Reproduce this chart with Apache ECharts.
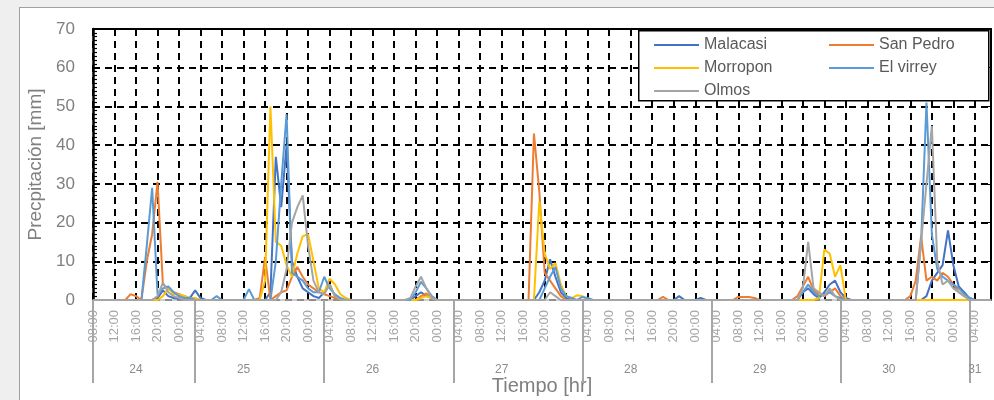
<!DOCTYPE html>
<html>
<head>
<meta charset="utf-8">
<script src="https://cdn.jsdelivr.net/npm/echarts@6/dist/echarts.min.js"></script>
<style>
body{margin:0;background:#efefef;overflow:hidden;}
#frame{position:absolute;left:19px;top:7px;width:980px;height:400px;background:#fff;border-left:1px solid #a0a0a0;border-top:1px solid #a0a0a0;}
#main{position:absolute;left:0;top:0;width:994px;height:400px;}
</style>
</head>
<body>
<div id="frame"></div>
<div id="main"></div>
<script>
// hourly categories, 24 08:00 -> 31 07:00
var categories = [];
for (var i = 0; i < 168; i++) {
    var h = 8 + i;
    var d = 24 + Math.floor(h / 24);
    var hh = h % 24;
    categories.push(d + ' ' + (hh < 10 ? '0' : '') + hh + ':00');
}
var dayBreakIdx = [0, 19, 43, 67, 91, 115, 139, 163];
var dayLabelIdx = [8, 28, 52, 76, 100, 124, 148, 164];
var yTicks = [0, 10, 20, 30, 40, 50, 60, 70];

var malacasi = [
    0,0,0,0,0,0,0,0,0,0,0,0, 0.5,2.5,1,0.5,0.3,0.3,0.5,2.5,0.5,0,0,0,
    0,0,0,0,0,0,0,0,0,2,37,24, 40,10,6,3,2,1,0.5,2,4,1,0,0,
    0,0,0,0,0,0,0,0,0,0,0,0, 1,2,1,0.5,0,0,0,0,0,0,0,0,
    0,0,0,0,0,0,0,0,0,0,0,2, 5,10.5,6,2,0.5,0,0,0,0,0,0,0,
    0,0,0,0,0,0,0,0,0,0,0,0, 0,1,0,0,0,0.5,0,0,0,0,0,0,
    0,0,0,0,0,0,0,0,0,0,0,0, 2,3,1.5,0.5,2,4,5,2,0.5,0,0,0,
    0,0,0,0,0,0,0,0,0,0,0,1, 5,7,9,18,9,3.5,2,0.5,0,0,0,0
];
var sanPedro = [
    0,0,0,0,0,0,0,1.5,1,0,10,17, 30.5,4,3,2,1.5,1,0.5,0,0,0,0,0,
    0,0,0,0,0,0,0,0.5,11,0,1,2, 2.5,6,8.5,6,4,3,2,1.5,1,0.5,0,0,
    0,0,0,0,0,0,0,0,0,0,0,0, 0,1,1.7,0.5,0,0,0,0,0,0,0,0,
    0,0,0,0,0,0,0,0,0,0,43,28, 7,5,3,1,0,0,0,0,0,0,0,0,
    0,0,0,0,0,0,0,0,0,0,0.8,0, 0,0,0,0,0,0,0,0,0,0,0,0,
    0.8,0.8,0.8,0.5,0,0,0,0,0,0,0,1, 3.5,6,2.5,1.5,1,2,3,1,0,0,0,0,
    0,0,0,0,0,0,0,0,1,5,16.5,5, 6,5,7,6,4,2,1,0.3,0,0,0,0
];
var morropon = [
    0,0,0,0,0,0,0,0,0,0,0,0, 0,1,3,1.5,1.5,1,0.5,0.5,0,0,0,0,
    0,0,0,0,0,0,0,0,5,50,15,14, 9,6,12,16.5,17,10,3,2,5.5,4,1.5,0.5,
    0,0,0,0,0,0,0,0,0,0,0,0, 0,0.5,1,0.5,0,0,0,0,0,0,0,0,
    0,0,0,0,0,0,0,0,0,0,0,25.5, 12,8,9.5,4,1,0.5,1.2,1,0,0,0,0,
    0,0,0,0,0,0,0,0,0,0,0,0, 0,0,0,0,0,0,0,0,0,0,0,0,
    0,0,0,0,0,0,0,0,0,0,0,0, 0,0,0,0.5,13,12,6,9,0,0,0,0,
    0,0,0,0,0,0,0,0,0,0,0,0, 0,0,0,0,0,0,0,0,0,0,0,0
];
var elVirrey = [
    0,0,0,0,0,0,0,0,0,0,14,29, 1.5,3,3.5,2,1,0.5,0.5,0,0,0,0,1,
    0,0,0,0,0,2.8,0,0,0,0,10,30, 48,7,6,5,3,2,2,6,3,1.5,0.5,0,
    0,0,0,0,0,0,0,0,0,0,0,0, 2,4.7,3,1,0,0,0,0,0,0,0,0,
    0,0,0,0,0,0,0,0,0,0,0,0, 3,6,8.5,3,1,0.5,0,0.8,0.5,0,0,0,
    0,0,0,0,0,0,0,0,0,0,0,0, 0,0,0,0,0,0,0,0,0,0,0,0,
    0,0,0,0,0,0,0,0,0,0,0,0, 2,4,2,1,1.5,2,1,0.5,0,0,0,0,
    0,0,0,0,0,0,0,0,0,0,15,51, 17,8,6,5,4,3,1.5,0.5,0,0,0,0
];
var olmos = [
    0,0,0,0,0,0,0,0,0,0,0,0, 1,4.5,2,1,0.5,0,0,0,0,0,0,0,
    0,0,0,0,0,0,0,0,0,0,0,2, 8,20,24,27,14,5,2,1.5,4,1,0,0,
    0,0,0,0,0,0,0,0,0,0,0,0.5, 3.5,6,3,0.5,0,0,0,0,0,0,0,0,
    0,0,0,0,0,0,0,0,0,0,0,0, 0,2,1,0,0,0,0,0,0,0,0,0,
    0,0,0,0,0,0,0,0,0,0,0,0, 0,0,0,0,0,0,0,0,0,0,0,0,
    0,0,0,0,0,0,0,0,0,0,0,0, 3,15,3,2,1,3,1,0,0,0,0,0,
    0,0,0,0,0,0,0,0,0,0,15,30, 45,10,4,5,3,2,1,0,0,0,0,0
];

var colors = ['#4472C4', '#ED7D31', '#FFC000', '#5B9BD5', '#A5A5A5'];
var font = 'Liberation Sans';

var dom = document.getElementById('main');
var myChart = echarts.init(dom, null, {renderer: 'canvas'});
var gridDash = [7, 5];

function lineSeries(name, data, c) {
    return {
        name: name,
        type: 'line',
        data: data,
        symbol: 'none',
        lineStyle: {width: 2, color: c},
        itemStyle: {color: c},
        z: 3
    };
}

var legendText = {fontFamily: font, fontSize: 16, color: '#595959', lineHeight: 20};

option = {
    color: colors,
    animation: false,
    grid: {left: 93, top: 29, right: 3, bottom: 100, outerBoundsMode: 'none'},
    graphic: [{
        type: 'rect',
        left: 638, top: 30,
        shape: {width: 350, height: 70},
        style: {fill: '#fff', stroke: '#000', lineWidth: 1.5},
        z: 10
    }],
    legend: [{
        orient: 'vertical',
        left: 654, top: 35,
        padding: 0,
        itemGap: 3,
        icon: 'rect',
        itemWidth: 45, itemHeight: 2,
        textStyle: legendText,
        data: ['Malacasi', 'Morropon', 'Olmos'],
        z: 11
    }, {
        orient: 'vertical',
        left: 829, top: 35,
        padding: 0,
        itemGap: 3,
        icon: 'rect',
        itemWidth: 45, itemHeight: 2,
        textStyle: legendText,
        data: ['San Pedro', 'El virrey'],
        z: 11
    }],
    xAxis: [{
        type: 'category',
        data: categories,
        boundaryGap: false,
        name: 'Tiempo [hr]',
        nameLocation: 'middle',
        nameGap: 76,
        nameTextStyle: {fontFamily: font, fontSize: 20, color: '#7f7f7f'},
        axisLine: {lineStyle: {color: '#bfbfbf', width: 1.5}},
        axisTick: {show: false},
        axisLabel: {
            interval: 3, rotate: 90, margin: 10,
            fontFamily: font, fontSize: 13, color: '#a6a6a6',
            formatter: function (v) { return v.slice(3); }
        },
        splitLine: {show: true, interval: 3, lineStyle: {color: '#000', width: 2, type: gridDash}}
    }, {
        type: 'category',
        data: categories,
        boundaryGap: false,
        position: 'bottom',
        axisLine: {show: false},
        axisTick: {
            show: true, length: 83,
            interval: function (idx) { return dayBreakIdx.indexOf(idx) >= 0; },
            lineStyle: {color: '#a6a6a6', width: 2}
        },
        axisLabel: {
            margin: 64,
            interval: function (idx) { return dayLabelIdx.indexOf(idx) >= 0; },
            fontFamily: font, fontSize: 12, color: '#8c8c8c',
            formatter: function (v) { return v.slice(0, 2); }
        },
        splitLine: {show: false}
    }, {
        type: 'category',
        data: categories,
        boundaryGap: false,
        position: 'top',
        axisLine: {lineStyle: {color: '#000', width: 2}},
        axisTick: {show: false},
        axisLabel: {show: false},
        splitLine: {show: false}
    }],
    yAxis: [{
        type: 'value',
        min: 0, max: 70, interval: 10,
        name: 'Precpitación [mm]',
        nameLocation: 'middle',
        nameGap: 45,
        nameTextStyle: {fontFamily: font, fontSize: 19, color: '#7f7f7f'},
        axisLine: {show: true, lineStyle: {color: '#000', width: 2.5}},
        axisTick: {show: true, inside: true, length: 5, lineStyle: {color: '#000', width: 1.5}},
        minorTick: {show: true, splitNumber: 10, length: 4, lineStyle: {color: '#000', width: 1.2}},
        axisLabel: {
            margin: 18, fontFamily: font, fontSize: 17, color: '#7f7f7f',
            formatter: function (v) { return yTicks.indexOf(v) >= 0 ? String(v) : ''; }
        },
        splitLine: {show: true, lineStyle: {color: '#000', width: 2, type: gridDash}}
    }, {
        type: 'value',
        min: 0, max: 70, interval: 10,
        position: 'right',
        axisLine: {show: true, lineStyle: {color: '#000', width: 2}},
        axisTick: {show: true, inside: true, length: 4, lineStyle: {color: '#000'}},
        axisLabel: {show: false},
        splitLine: {show: false}
    }],
    series: [
        lineSeries('Malacasi', malacasi, colors[0]),
        lineSeries('San Pedro', sanPedro, colors[1]),
        lineSeries('Morropon', morropon, colors[2]),
        lineSeries('El virrey', elVirrey, colors[3]),
        lineSeries('Olmos', olmos, colors[4])
    ]
};
if (option && typeof option === "object") {
    myChart.setOption(option, true);
}
</script>
</body>
</html>
